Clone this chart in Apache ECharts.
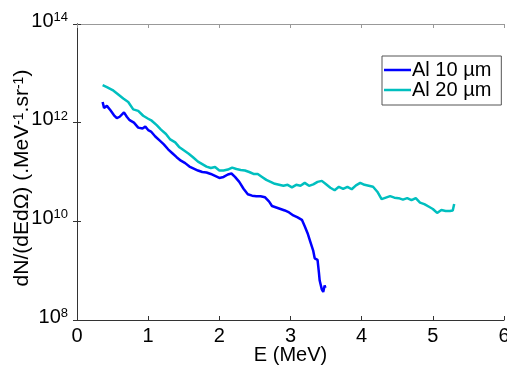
<!DOCTYPE html>
<html>
<head>
<meta charset="utf-8">
<script src="https://cdn.jsdelivr.net/npm/echarts@6/dist/echarts.min.js"></script>
<style>html,body{margin:0;padding:0;background:#fff}#c{width:507px;height:366px}</style>
</head>
<body>
<div id="c"></div>
<script>
// Energy (MeV) and log10 of dN/(dE dΩ)
var blueX = [0.36,0.38,0.42,0.47,0.52,0.56,0.60,0.66,0.70,0.74,0.80,0.86,0.92,0.96,1.00,1.04,1.10,1.16,1.22,1.28,1.34,1.40,1.46,1.52,1.58,1.64,1.70,1.76,1.82,1.88,1.94,2.00,2.06,2.12,2.17,2.22,2.28,2.34,2.40,2.46,2.52,2.58,2.64,2.70,2.74,2.80,2.86,2.92,2.98,3.04,3.10,3.16,3.20,3.24,3.28,3.32,3.34,3.38,3.40,3.41,3.44,3.46,3.48,3.49];
var blueLog10 = [12.42,12.30,12.34,12.25,12.15,12.09,12.12,12.21,12.12,12.05,12.00,11.90,11.88,11.92,11.85,11.82,11.72,11.64,11.56,11.46,11.38,11.30,11.23,11.18,11.11,11.07,11.03,11.00,10.99,10.96,10.92,10.88,10.90,10.95,10.97,10.90,10.80,10.66,10.55,10.52,10.51,10.51,10.49,10.40,10.31,10.28,10.25,10.22,10.18,10.12,10.08,10.03,9.90,9.76,9.58,9.40,9.25,9.22,8.95,8.80,8.62,8.57,8.70,8.65];
var tealX = [0.36,0.42,0.50,0.58,0.65,0.72,0.79,0.86,0.93,1.00,1.05,1.12,1.18,1.25,1.31,1.38,1.44,1.50,1.57,1.63,1.70,1.76,1.82,1.88,1.94,2.00,2.06,2.12,2.18,2.24,2.30,2.36,2.42,2.48,2.54,2.60,2.66,2.72,2.78,2.84,2.90,2.96,3.02,3.08,3.14,3.20,3.26,3.32,3.38,3.44,3.50,3.56,3.62,3.68,3.74,3.80,3.86,3.92,3.98,4.04,4.10,4.16,4.22,4.28,4.34,4.40,4.46,4.52,4.58,4.64,4.70,4.76,4.82,4.88,4.94,5.00,5.06,5.12,5.18,5.24,5.28,5.30];
var tealLog10 = [12.76,12.72,12.66,12.57,12.49,12.42,12.27,12.24,12.14,12.08,12.04,11.95,11.86,11.77,11.66,11.60,11.50,11.44,11.37,11.30,11.21,11.16,11.11,11.08,11.10,11.03,11.03,11.05,11.09,11.06,11.04,11.03,11.00,10.96,10.96,10.90,10.84,10.80,10.76,10.74,10.72,10.74,10.69,10.74,10.72,10.78,10.72,10.75,10.80,10.82,10.75,10.68,10.63,10.70,10.66,10.70,10.65,10.73,10.78,10.74,10.72,10.70,10.60,10.45,10.48,10.51,10.48,10.47,10.44,10.47,10.43,10.47,10.38,10.35,10.30,10.25,10.17,10.23,10.21,10.21,10.22,10.35];
var seriesNames = ['Al 10 \u00b5m', 'Al 20 \u00b5m'];
var xTicks = [0,1,2,3,4,5,6];
var yExp = [8,10,12,14];

function pairs(xs, ls) { return xs.map(function (x, i) { return [x, Math.pow(10, ls[i])]; }); }

var FONT = '"Liberation Sans", Arial, sans-serif';
var chart = echarts.init(document.getElementById('c'), null, {renderer: 'canvas'});
var supLabel = {
  fontFamily: FONT, color: '#000', padding: [0, 0, 6, 0], margin: 9,
  formatter: function (v) {
    var e = Math.round(Math.log10(v));
    return yExp.indexOf(e) >= 0 ? '{b|10}{s|' + e + '}' : '';
  },
  rich: {
    b: {fontSize: 20, lineHeight: 20, fontFamily: FONT, color: '#000', verticalAlign: 'bottom', padding: [6, 0, 0, 0]},
    s: {fontSize: 13, lineHeight: 13, fontFamily: FONT, color: '#000', verticalAlign: 'top'}
  }
};
chart.setOption({
  animation: false,
  backgroundColor: '#fff',
  grid: {left: 77, right: 3, top: 24, bottom: 46, containLabel: false, outerBoundsMode: 'none'},
  legend: {
    data: seriesNames, left: 382, top: 56, orient: 'vertical', itemGap: 0,
    icon: 'rect', itemWidth: 27, itemHeight: 2.5,
    backgroundColor: '#fff', borderColor: '#555', borderWidth: 1,
    padding: [4, 10, 5, 2],
    textStyle: {fontFamily: FONT, fontSize: 20, lineHeight: 18, color: '#000', padding: [0, 0, 0, -4]}
  },
  xAxis: [{
    type: 'value', min: 0, max: 6, interval: 1, position: 'bottom',
    name: 'E (MeV)', nameLocation: 'middle', nameGap: 25, nameMoveOverlap: false,
    nameTextStyle: {fontFamily: FONT, fontSize: 20, color: '#000'},
    axisLine: {show: true, lineStyle: {color: '#333', width: 1}},
    axisTick: {show: true, inside: true, length: 4, lineStyle: {color: '#333'}},
    axisLabel: {fontFamily: FONT, fontSize: 20, color: '#000', margin: 6,
      formatter: function (v) { return xTicks.indexOf(v) >= 0 ? String(v) : ''; }},
    splitLine: {show: false}
  }, {
    type: 'value', min: 0, max: 6, interval: 1, position: 'top',
    axisLine: {show: true, lineStyle: {color: '#999', width: 1}},
    axisTick: {show: true, inside: true, length: 4, lineStyle: {color: '#999'}},
    axisLabel: {show: false}, splitLine: {show: false}
  }],
  yAxis: [{
    type: 'log', logBase: 10, min: 1e8, max: 1e14, interval: 2, position: 'left',
    name: 'dN/(dEd\u03a9) (.MeV{s|-1}.sr{s|-1})', nameLocation: 'middle', nameGap: 44, nameMoveOverlap: false,
    nameTextStyle: {fontFamily: FONT, fontSize: 21, color: '#000', padding: [0, 12, 0, 0],
      rich: {s: {fontSize: 14, fontFamily: FONT, color: '#000', verticalAlign: 'top'}}},
    axisLine: {show: true, lineStyle: {color: '#333', width: 1}},
    axisTick: {show: true, inside: true, length: 4, lineStyle: {color: '#333'}},
    minorTick: {show: false},
    axisLabel: supLabel,
    splitLine: {show: false}
  }, {
    type: 'log', logBase: 10, min: 1e8, max: 1e14, interval: 2, position: 'right',
    axisLine: {show: true, lineStyle: {color: '#333', width: 1}},
    axisTick: {show: true, inside: true, length: 4, lineStyle: {color: '#333'}},
    axisLabel: {show: false}, splitLine: {show: false}
  }],
  series: [{
    name: seriesNames[0], type: 'line', xAxisIndex: 0, yAxisIndex: 0,
    data: pairs(blueX, blueLog10), showSymbol: false, symbol: 'none',
    lineStyle: {color: '#0000ff', width: 2.5}, itemStyle: {color: '#0000ff'}
  }, {
    name: seriesNames[1], type: 'line', xAxisIndex: 0, yAxisIndex: 0,
    data: pairs(tealX, tealLog10), showSymbol: false, symbol: 'none',
    lineStyle: {color: '#00bfbf', width: 2.5}, itemStyle: {color: '#00bfbf'}
  }]
});
</script>
</body>
</html>
